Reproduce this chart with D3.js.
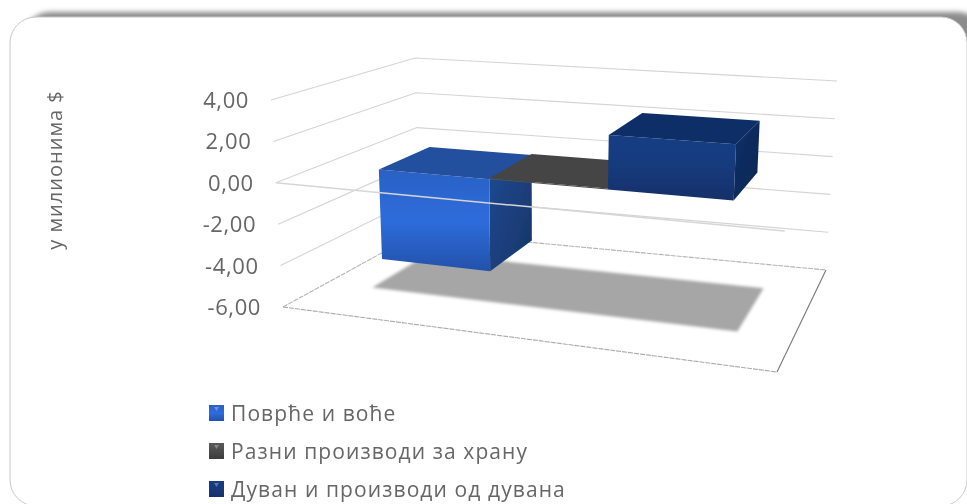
<!DOCTYPE html>
<html>
<head>
<meta charset="utf-8">
<script src="https://cdn.jsdelivr.net/npm/d3@7"></script>
<style>
    html, body {margin: 0; padding: 0; background: #fff;}
    svg {display: block;}
    text {font-family: "Open Sans", sans-serif; fill: #666;}
</style>
</head>
<body>
<script>
//values
var categories = ["Поврће и воће", "Разни производи за храну", "Дуван и производи од дувана"];
var seriesValues = [-4.5, 0.05, 2.6];
var tickValues = [4, 2, 0, -2, -4, -6];
var tickLabels = ["4,00", "2,00", "0,00", "-2,00", "-4,00", "-6,00"];
var axisTitle = "у милионима $";

//wrap everything in a self-executing anonymous function to move to local scope
(function(){

    var width = 967,
        height = 504;

    //screen position of the eight corners of the 3D box: [left/right][front/back][top/bottom]
    var corners = {
        frontLeft:  [[271, 100], [283, 307]],
        frontRight: [[790, 137], [777, 372]],
        backLeft:   [[415, 58], [420, 232]],
        backRight:  [[837, 81], [826, 270]]
    };

    //value to vertical share of the box
    var valueScale = d3.scaleLinear().domain([4, -6]).range([0, 1]);
    //category slot edges to horizontal share of the box (right side is nearer, so slots widen)
    var slotScale = d3.scaleLinear().domain([0, 1, 2, 3]).range([0.118, 0.349, 0.597, 0.86]);
    //depth of the bars, 0 is the front of the box and 1 the back
    var barFront = 0.33,
        barBack = 0.72;

    var fillColors = [
        ["#2a61c4", "#2e6cdc", "#2352aa"],
        ["#5a5a5a", "#4c4c4c", "#3c3c3c"],
        ["#173d84", "#163a7c", "#122f68"]
    ];
    var topColors = ["#204f9e", "#444444", "#112e66"];
    var sideColors = [["#1f4a94", "#173567"], ["#404040", "#404040"], ["#11306a", "#0e2650"]];

    var svg = d3.select("body")
        .append("svg")
        .attr("width", width)
        .attr("height", height);

    var defs = svg.append("defs");
    setDefs(defs);
    setFrame(svg);
    setWalls(svg);
    setShadow(svg);
    setBars(svg);
    setFrontLine(svg);
    setLabels(svg);
    setLegend(svg);

    //interpolate a point inside the box
    function project(u, d, v){
        var t = valueScale(v);
        function corner(c){
            return [c[0][0] + (c[1][0] - c[0][0]) * t, c[0][1] + (c[1][1] - c[0][1]) * t];
        };
        var fl = corner(corners.frontLeft),
            fr = corner(corners.frontRight),
            bl = corner(corners.backLeft),
            br = corner(corners.backRight);
        return [0, 1].map(function(i){
            return (1 - u) * (1 - d) * fl[i] + u * (1 - d) * fr[i] + (1 - u) * d * bl[i] + u * d * br[i];
        });
    };

    function toPath(points, closed){
        return d3.line()(points) + (closed ? "Z" : "");
    };

    function setDefs(defs){
        defs.append("filter").attr("id", "soft").append("feGaussianBlur").attr("stdDeviation", 0.55);
        defs.append("filter").attr("id", "softer").append("feGaussianBlur").attr("stdDeviation", 1.6);
        defs.append("filter").attr("id", "frameBlur")
            .attr("x", "-5%").attr("y", "-5%").attr("width", "110%").attr("height", "110%")
            .append("feGaussianBlur").attr("stdDeviation", 2.6);

        categories.forEach(function(c, i){
            var front = defs.append("linearGradient")
                .attr("id", "front" + i)
                .attr("x1", 0).attr("y1", 0).attr("x2", 0).attr("y2", 1);
            front.selectAll("stop")
                .data(fillColors[i])
                .enter()
                .append("stop")
                .attr("offset", function(d, a){ return a / 2; })
                .attr("stop-color", function(d){ return d; });

            var side = defs.append("linearGradient")
                .attr("id", "side" + i)
                .attr("x1", 0).attr("y1", 0).attr("x2", 1).attr("y2", 1);
            side.selectAll("stop")
                .data(sideColors[i])
                .enter()
                .append("stop")
                .attr("offset", function(d, a){ return a; })
                .attr("stop-color", function(d){ return d; });
        });
    };

    //card with the heavy shadow along its top edge
    function setFrame(svg){
        svg.append("rect")
            .attr("x", 24).attr("y", 12)
            .attr("width", 960).attr("height", 300)
            .attr("rx", 26)
            .style("fill", "#8c8c8c")
            .attr("filter", "url(#frameBlur)");
        svg.append("rect")
            .attr("x", 10).attr("y", 17)
            .attr("width", 957).attr("height", 489)
            .attr("rx", 26)
            .style("fill", "#fff")
            .style("stroke", "#c8c8c8")
            .style("stroke-width", 1);
    };

    //gridlines on the two walls and the floor
    function setWalls(svg){
        var walls = svg.append("g").attr("class", "walls").attr("filter", "url(#soft)");

        walls.selectAll(".gridline")
            .data(tickValues)
            .enter()
            .append("path")
            .attr("class", "gridline")
            .attr("d", function(v){
                return toPath([project(0, 0, v), project(0, 1, v), project(1, 1, v)]);
            })
            .style("fill", "none")
            .style("stroke", function(v){ return v == -6 ? "#b4b4b4" : "#d4d4d4"; })
            .style("stroke-dasharray", function(v){ return v == -6 ? "5 1" : null; })
            .style("stroke-width", 1.1);

        //floor front and side edges
        var low = tickValues[tickValues.length - 1];
        walls.append("path")
            .attr("d", toPath([project(0, 0, low), project(1, 0, low)]))
            .style("fill", "none")
            .style("stroke", "#aaa")
            .style("stroke-dasharray", "5 1")
            .style("stroke-width", 1.1);
        walls.append("path")
            .attr("d", toPath([project(1, 0, low), project(1, 1, low)]))
            .style("fill", "none")
            .style("stroke", "#777")
            .style("stroke-width", 1.1);
    };

    //shadow of the bars on the floor
    function setShadow(svg){
        var low = tickValues[tickValues.length - 1];
        svg.append("path")
            .attr("class", "shadow")
            .attr("d", toPath([
                project(0.095, barFront, low),
                project(0.095, 0.77, low),
                project(0.88, 0.77, low),
                project(0.88, barFront, low)
            ], true))
            .style("fill", "#a6a6a6")
            .attr("filter", "url(#softer)");
    };

    function setBars(svg){
        var bars = svg.selectAll(".bar")
            .data(seriesValues)
            .enter()
            .append("g")
            .attr("class", "bar")
            .attr("filter", "url(#soft)");

        bars.each(function(val, i){
            var g = d3.select(this),
                u0 = slotScale(i),
                u1 = slotScale(i + 1),
                high = Math.max(val, 0),
                low = Math.min(val, 0);

            //right side
            g.append("path")
                .attr("d", toPath([
                    project(u1, barFront, high),
                    project(u1, barBack, high),
                    project(u1, barBack, low),
                    project(u1, barFront, low)
                ], true))
                .style("fill", "url(#side" + i + ")");

            //front
            g.append("path")
                .attr("d", toPath([
                    project(u0, barFront, high),
                    project(u1, barFront, high),
                    project(u1, barFront, low),
                    project(u0, barFront, low)
                ], true))
                .style("fill", "url(#front" + i + ")");

            //top
            g.append("path")
                .attr("d", toPath([
                    project(u0, barFront, high),
                    project(u0, barBack, high),
                    project(u1, barBack, high),
                    project(u1, barFront, high)
                ], true))
                .style("fill", topColors[i]);
        });
    };

    //front edge of the zero plane runs over the bars
    function setFrontLine(svg){
        svg.append("path")
            .attr("class", "zeroLine")
            .attr("d", toPath([project(0, 0, 0), project(1, 0, 0)]))
            .style("fill", "none")
            .style("stroke", "#d6d6d6")
            .style("stroke-width", 1.5)
            .attr("filter", "url(#soft)");
    };

    function setLabels(svg){
        var labels = svg.append("g").attr("class", "labels").attr("filter", "url(#soft)");

        labels.selectAll(".tickLabel")
            .data(tickValues)
            .enter()
            .append("text")
            .attr("class", "tickLabel")
            .attr("text-anchor", "end")
            .attr("x", function(v){ return project(0, 0, v)[0] - 22; })
            .attr("y", function(v){ return project(0, 0, v)[1] + 8; })
            .style("font-size", "22px")
            .style("letter-spacing", "0.6px")
            .text(function(v, i){ return tickLabels[i]; });

        labels.append("text")
            .attr("class", "axisTitle")
            .attr("text-anchor", "middle")
            .attr("transform", "translate(62,170) rotate(-90)")
            .style("font-size", "20px")
            .style("letter-spacing", "1px")
            .text(axisTitle);
    };

    function setLegend(svg){
        var rowScale = d3.scalePoint()
            .domain(categories)
            .range([413, 489]);

        var rows = svg.selectAll(".legendRow")
            .data(categories)
            .enter()
            .append("g")
            .attr("class", "legendRow")
            .attr("transform", function(d){ return "translate(209," + rowScale(d) + ")"; })
            .attr("filter", "url(#soft)");

        rows.append("rect")
            .attr("y", -8)
            .attr("width", 15)
            .attr("height", 16)
            .style("fill", function(d, i){ return "url(#front" + i + ")"; });

        //small glint at the top of the swatch
        rows.append("path")
            .attr("d", "M5,-6L10,-6L7.5,-2Z")
            .style("fill", "#fff")
            .style("opacity", 0.3);

        rows.append("text")
            .attr("x", 22)
            .attr("y", 8)
            .style("font-size", "21px")
            .style("letter-spacing", "1.1px")
            .text(function(d){ return d; });
    };

})();
</script>
</body>
</html>
